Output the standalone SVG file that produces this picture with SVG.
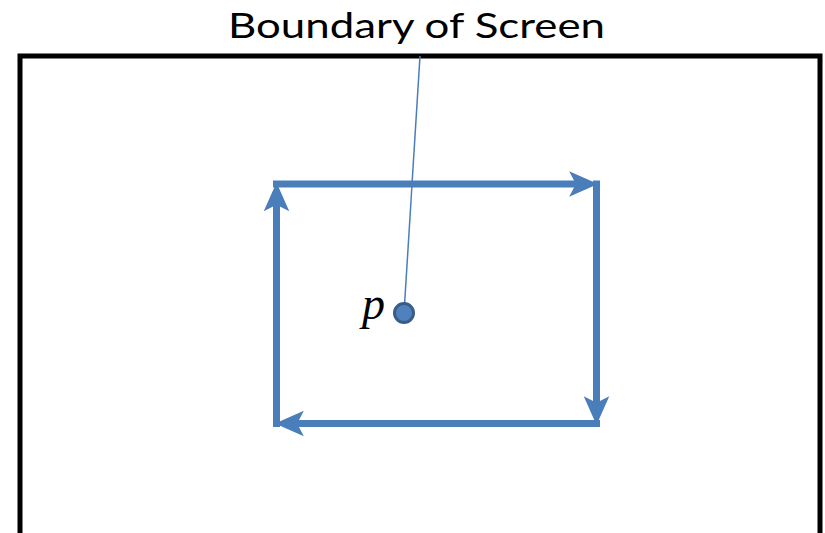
<svg xmlns="http://www.w3.org/2000/svg" width="825" height="533" viewBox="0 0 825 533">
<style>
.edge{fill:none;stroke:#4A7EBB;stroke-width:7;stroke-linecap:butt}
.lbl{font-family:Lato,"Liberation Sans",Arial,sans-serif;font-size:34px;fill:#000}
</style>
<defs>
<marker id="ah" markerUnits="userSpaceOnUse" markerWidth="30" markerHeight="30" viewBox="0 -12 27 24" refX="12" refY="0" orient="auto" overflow="visible">
<path d="M0,-11.5 L26,0 L0,11.5 L6,0 Z" fill="#4A7EBB"/>
</marker>
</defs>
<rect width="825" height="533" fill="#fff"/>
<g id="screen">
<rect x="20" y="56" width="800" height="500" fill="none" stroke="#000" stroke-width="5"/>
<text class="lbl" x="228" y="38" textLength="377" lengthAdjust="spacingAndGlyphs">Boundary of Screen</text>
</g>
<g id="connectors">
<path class="edge" d="M273,184 H582.5" marker-end="url(#ah)"/>
<path class="edge" d="M596.5,180.5 V409.5" marker-end="url(#ah)"/>
<path class="edge" d="M600,423.5 H290.5" marker-end="url(#ah)"/>
<path class="edge" d="M276.5,427 V198" marker-end="url(#ah)"/>
<line x1="420" y1="56" x2="404" y2="313" stroke="#4A7EBB" stroke-width="1.5"/>
</g>
<g id="point-p">
<circle cx="404" cy="313" r="9.5" fill="#4F81BD" stroke="#385D8A" stroke-width="3"/>
<text x="362" y="319" font-family="'Liberation Serif','Times New Roman',serif" font-style="italic" font-size="46">p</text>
</g>
</svg>
